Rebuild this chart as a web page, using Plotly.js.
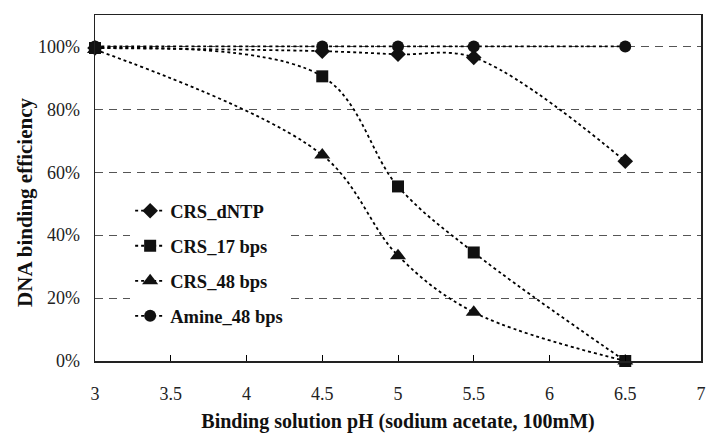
<!DOCTYPE html>
<html><head><meta charset="utf-8">
<script src="https://cdn.plot.ly/plotly-3.0.1.min.js"></script>
<style>html,body{margin:0;padding:0;background:#fff}#chart{width:706px;height:435px}</style>
</head><body><div id="chart"></div>
<script>
const pH = [3, 4.5, 5, 5.5, 6.5];
const crsDNTP = [99.5, 98.5, 97.5, 96.5, 63.5];
const crs17 = [99.5, 90.5, 55.5, 34.5, 0];
const crs48 = [99, 65.5, 33.5, 15.5, 0];
const amine48 = [100, 100, 100, 100, 100];
const names = ['CRS_dNTP', 'CRS_17 bps', 'CRS_48 bps', 'Amine_48 bps'];
const symbols = ['diamond', 'square', 'triangle-up', 'circle'];
const series = [crsDNTP, crs17, crs48, amine48];
const xTicks = [3, 3.5, 4, 4.5, 5, 5.5, 6, 6.5, 7];
const xTickText = ['3', '3.5', '4', '4.5', '5', '5.5', '6', '6.5', '7'];
const yTicks = [0, 20, 40, 60, 80, 100];
const yTickText = ['0%', '20%', '40%', '60%', '80%', '100%'];
const markerSizes = [12, 12, 14, 12];

const traces = series.map((ys, i) => ({
  x: pH, y: ys, name: names[i], type: 'scatter', mode: 'lines+markers',
  legendgroup: 'g' + i,
  line: {color: '#000', width: 1.8, dash: 'dot', shape: 'spline', smoothing: 1},
  marker: {symbol: symbols[i], size: markerSizes[i], color: '#111'},
  cliponaxis: false
}));

const serif = 'Liberation Serif, Times New Roman, serif';
const layout = {
  width: 706, height: 435,
  margin: {l: 95, r: 5, t: 15, b: 74},
  paper_bgcolor: '#fff', plot_bgcolor: '#fff',
  font: {family: serif, color: '#222'},
  showlegend: true,
  legend: {x: 0.058, y: 0.488, xanchor: 'left', yanchor: 'top', bgcolor: '#fff',
    font: {size: 18.5, color: '#111', family: serif, weight: 'bold'},
    tracegroupgap: 8, itemwidth: 30},
  xaxis: {range: [3, 7], tickvals: xTicks, ticktext: xTickText, ticks: 'inside', ticklen: 6, tickcolor: '#000',
    ticklabelstandoff: 16,
    showgrid: false, zeroline: false, showline: true, mirror: true, linecolor: '#222', linewidth: 1.5,
    tickfont: {size: 18, color: '#222', family: serif},
    title: {text: '<b>Binding solution pH (sodium acetate, 100mM)</b>', font: {size: 20, color: '#111', family: serif}, standoff: 11}},
  yaxis: {range: [0, 110], tickvals: yTicks, ticktext: yTickText, ticks: '',
    ticklabelstandoff: 10,
    showgrid: true, gridcolor: '#555', griddash: '8px,6px', gridwidth: 1,
    zeroline: false, showline: true, mirror: true, linecolor: '#222', linewidth: 1.5,
    tickfont: {size: 18, color: '#222', family: serif}},
  annotations: [{text: '<b>DNA binding efficiency</b>', xref: 'paper', yref: 'paper',
    x: -0.1155, y: 0.457, xanchor: 'center', yanchor: 'middle', textangle: -90, showarrow: false,
    font: {size: 21, color: '#111', family: serif}}]
};
Plotly.newPlot('chart', traces, layout, {displayModeBar: false, staticPlot: true});
</script></body></html>
